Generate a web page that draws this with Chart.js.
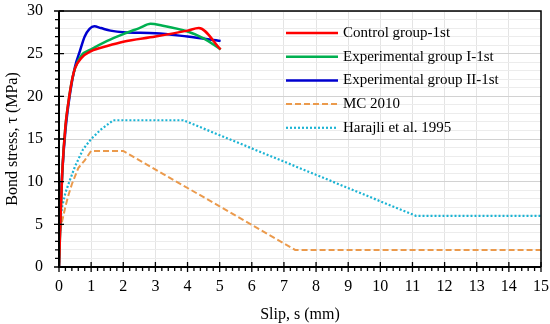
<!DOCTYPE html>
<html>
<head>
<meta charset="utf-8">
<script src="https://cdn.jsdelivr.net/npm/chart.js@4"></script>
<style>
  html, body { margin: 0; padding: 0; background: #fff; }
  #wrap { width: 550px; height: 324px; }
</style>
</head>
<body>
<div id="wrap"><canvas id="mycanvas"></canvas></div>
<script>
// values
var controlSlip   = [0, 0.05, 0.1, 0.2, 0.3, 0.4, 0.5, 0.7, 1.0, 1.5, 2.0, 3.0, 4.0, 4.35, 5.03];
var controlStress = [0, 6, 11, 16.5, 19.5, 21.8, 23.3, 24.5, 25.3, 25.9, 26.4, 27.0, 27.7, 28.0, 25.5];

var expISlip   = [0, 0.05, 0.1, 0.2, 0.3, 0.4, 0.5, 0.7, 1.0, 1.5, 2.0, 2.5, 2.85, 3.2, 4.0, 4.5, 5.03];
var expIStress = [0, 6, 11, 16.5, 19.5, 21.8, 23.3, 24.8, 25.5, 26.5, 27.3, 28.0, 28.5, 28.3, 27.6, 26.8, 25.5];

var expIISlip   = [0, 0.05, 0.1, 0.2, 0.35, 0.5, 0.65, 0.8, 0.95, 1.1, 1.3, 1.6, 2.0, 3.0, 4.0, 5.03];
var expIIStress = [0, 7, 11, 16, 20.5, 23.5, 25.3, 27.0, 27.9, 28.2, 28.0, 27.7, 27.5, 27.4, 27.0, 26.5];

var mcSlip   = [0, 0.02, 0.05, 0.1, 0.2, 0.3, 0.4, 0.6, 0.8, 1.0, 2.0, 7.35, 15];
var mcStress = [0, 3.5, 4.5, 5.4, 7.1, 8.5, 9.7, 11.6, 12.5, 13.6, 13.6, 2.0, 2.0];

var harSlip   = [0, 0.02, 0.05, 0.1, 0.2, 0.35, 0.5, 0.75, 1.0, 1.3, 1.69, 3.87, 11.1, 15];
var harStress = [0, 4.5, 5.7, 7.1, 8.7, 10.3, 11.8, 13.8, 15.0, 16.1, 17.2, 17.2, 6.0, 6.0];

var seriesNames = ['Control group-1st', 'Experimental group I-1st', 'Experimental group II-1st', 'MC 2010', 'Harajli et al. 1995'];

function pts(xs, ys) {
  var out = [];
  for (var i in xs) out.push({x: xs[i], y: ys[i]});
  return out;
}
function isInt(v) { return Math.abs(v - Math.round(v)) < 1e-6; }

var serif = "'Liberation Serif', 'Times New Roman', serif";

// box, axis ticks and legend
var decoPlugin = {
  id: 'deco',
  afterDatasetsDraw: function(chart) {
    var ctx = chart.ctx, a = chart.chartArea;
    var xs = chart.scales.x, ys = chart.scales.y;
    ctx.save();
    ctx.strokeStyle = '#000';
    ctx.lineWidth = 1.5;
    ctx.beginPath();
    ctx.moveTo(a.left, a.top); ctx.lineTo(a.right, a.top); ctx.lineTo(a.right, a.bottom);
    ctx.stroke();
    ctx.lineWidth = 2;
    ctx.beginPath();
    ctx.moveTo(a.left, a.top); ctx.lineTo(a.left, a.bottom); ctx.lineTo(a.right, a.bottom);
    ctx.stroke();
    ctx.lineWidth = 1.3;
    ctx.beginPath();
    for (var k = 0; k <= 75; k++) {
      var v = k / 5, px = xs.getPixelForValue(v);
      if (k % 5 === 0) { ctx.moveTo(px, a.bottom - 5); ctx.lineTo(px, a.bottom + 5); }
      else { ctx.moveTo(px, a.bottom); ctx.lineTo(px, a.bottom + 4); }
    }
    for (var j = 0; j <= 30; j++) {
      var py = ys.getPixelForValue(j);
      if (j % 5 === 0) { ctx.moveTo(a.left - 5, py); ctx.lineTo(a.left + 5, py); }
      else { ctx.moveTo(a.left - 4, py); ctx.lineTo(a.left, py); }
    }
    ctx.stroke();

    // legend inside the plot
    var lx = a.right - 255, tx = a.right - 198;
    ctx.font = '15px ' + serif;
    ctx.textBaseline = 'middle';
    ctx.fillStyle = '#000';
    chart.data.datasets.forEach(function(ds, i) {
      var y = a.top + 22 + i * 23.7;
      ctx.strokeStyle = ds.borderColor;
      ctx.lineWidth = ds.borderWidth;
      ctx.setLineDash(ds.borderDash || []);
      ctx.beginPath();
      ctx.moveTo(lx, y); ctx.lineTo(lx + 52, y);
      ctx.stroke();
      ctx.setLineDash([]);
      ctx.fillText(ds.label, tx, y);
    });
    ctx.restore();
  }
};

var chartdata = {
  datasets: [
    { label: seriesNames[0], data: pts(controlSlip, controlStress), borderColor: '#ff0000', borderWidth: 2.5, cubicInterpolationMode: 'monotone' },
    { label: seriesNames[1], data: pts(expISlip, expIStress), borderColor: '#00b050', borderWidth: 2.5, cubicInterpolationMode: 'monotone' },
    { label: seriesNames[2], data: pts(expIISlip, expIIStress), borderColor: '#0000d0', borderWidth: 2.5, cubicInterpolationMode: 'monotone' },
    { label: seriesNames[3], data: pts(mcSlip, mcStress), borderColor: '#eb9a4c', borderWidth: 2, borderDash: [6, 3] },
    { label: seriesNames[4], data: pts(harSlip, harStress), borderColor: '#1cb4d4', borderWidth: 2.2, borderDash: [2, 2] }
  ]
};

var ctx = document.getElementById('mycanvas');
var lineGraph = new Chart(ctx, {
  type: 'line',
  data: chartdata,
  plugins: [decoPlugin],
  options: {
    responsive: true,
    maintainAspectRatio: false,
    animation: false,
    layout: { padding: { top: 11, right: 9, left: 0, bottom: 0 } },
    elements: { point: { radius: 0 }, line: { fill: false } },
    plugins: { legend: { display: false }, tooltip: { enabled: false } },
    scales: {
      x: {
        type: 'linear', min: 0, max: 15,
        afterFit: function(s) { s.height = 57; s.paddingLeft = 0; s.paddingRight = 0; },
        border: { display: false },
        grid: {
          drawTicks: false,
          color: function(c) { return isInt(c.tick.value) ? '#e4e4e4' : 'rgba(0,0,0,0)'; },
          lineWidth: 1
        },
        ticks: {
          stepSize: 1, padding: 10, color: '#000', maxRotation: 0, autoSkip: false,
          font: { family: serif, size: 16 }
        },
        title: { display: true, text: 'Slip, s (mm)', color: '#000', font: { family: serif, size: 16 }, padding: { top: 4, bottom: 0 } }
      },
      y: {
        min: 0, max: 30,
        afterFit: function(s) { s.width = 59; s.paddingTop = 0; s.paddingBottom = 0; },
        border: { display: false },
        grid: {
          drawTicks: false,
          color: function(c) { return c.tick.value % 5 === 0 ? '#d2d2d2' : '#ececec'; },
          lineWidth: 1
        },
        ticks: {
          stepSize: 1, padding: 16, color: '#000', autoSkip: false,
          font: { family: serif, size: 16 },
          callback: function(v) { return v % 5 === 0 ? v : ''; }
        },
        title: { display: true, text: 'Bond stress, τ (MPa)', color: '#000', font: { family: serif, size: 16 }, padding: { top: 3, bottom: 0 } }
      }
    }
  }
});
</script>
</body>
</html>
